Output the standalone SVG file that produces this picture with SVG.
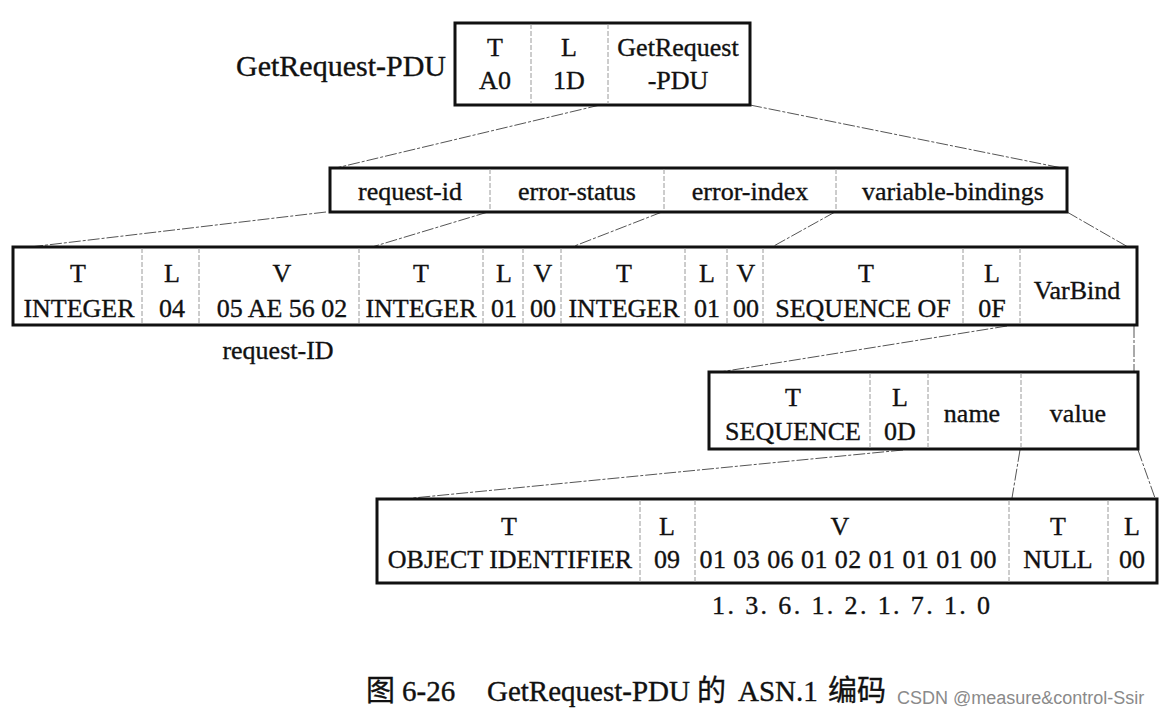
<svg xmlns="http://www.w3.org/2000/svg" width="1173" height="720" viewBox="0 0 1173 720">
<style>
  text { font-family: "Liberation Serif", "Times New Roman", Times, serif; font-size: 26px; fill: #111; stroke: #111; stroke-width: 0.35; text-anchor: middle; }
  .box { fill: #fff; stroke: #111; stroke-width: 3; }
  .div { stroke: #9a9a9a; stroke-width: 1; stroke-dasharray: 5 2; fill: none; }
  .con { stroke: #555; stroke-width: 1; stroke-dasharray: 12 2 3 2; fill: none; }
  .big { font-size: 30px; }
  .cap { font-family: "Liberation Serif", "Noto Sans CJK SC", serif; font-size: 29px; text-anchor: start; }
  .wm { font-family: "Liberation Sans", Arial, sans-serif; font-size: 18px; fill: #8a8a8a; stroke: none; text-anchor: start; }
</style>
<rect width="1173" height="720" fill="#fff"/>

<g id="connectors">
  <line class="con" x1="600" y1="105" x2="336" y2="168"/>
  <line class="con" x1="750" y1="105" x2="1062" y2="168"/>
  <line class="con" x1="326" y1="212" x2="30" y2="247"/>
  <line class="con" x1="488" y1="212" x2="372" y2="247"/>
  <line class="con" x1="662" y1="212" x2="572" y2="247"/>
  <line class="con" x1="835" y1="212" x2="772" y2="247"/>
  <line class="con" x1="1067" y1="212" x2="1128" y2="247"/>
  <line class="con" x1="1007" y1="326" x2="720" y2="372"/>
  <line class="con" x1="1134" y1="326" x2="1134" y2="372"/>
  <line class="con" x1="903" y1="450" x2="413" y2="498"/>
  <line class="con" x1="1020" y1="450" x2="1012" y2="498"/>
  <line class="con" x1="1138" y1="450" x2="1155" y2="498"/>
</g>

<g id="pdu-label">
  <text class="big" x="446" y="76" style="text-anchor:end">GetRequest-PDU</text>
</g>

<g id="pdu-box">
  <rect class="box" x="455" y="23" width="295" height="82"/>
  <line class="div" x1="531" y1="24" x2="531" y2="104"/>
  <line class="div" x1="608" y1="24" x2="608" y2="104"/>
  <text x="495" y="56">T</text>
  <text x="495" y="89">A0</text>
  <text x="569" y="56">L</text>
  <text x="569" y="89">1D</text>
  <text x="678" y="56">GetRequest</text>
  <text x="678" y="89">-PDU</text>
</g>

<g id="fields">
  <rect class="box" x="330" y="168" width="737" height="44"/>
  <line class="div" x1="490" y1="169" x2="490" y2="211"/>
  <line class="div" x1="664" y1="169" x2="664" y2="211"/>
  <line class="div" x1="836" y1="169" x2="836" y2="211"/>
  <text x="410" y="200">request-id</text>
  <text x="577" y="200">error-status</text>
  <text x="750" y="200">error-index</text>
  <text x="953" y="200">variable-bindings</text>
</g>

<g id="encoding">
  <rect class="box" x="13" y="247" width="1124" height="78"/>
  <line class="div" x1="142" y1="248" x2="142" y2="324"/>
  <line class="div" x1="199" y1="248" x2="199" y2="324"/>
  <line class="div" x1="359" y1="248" x2="359" y2="324"/>
  <line class="div" x1="483" y1="248" x2="483" y2="324"/>
  <line class="div" x1="523" y1="248" x2="523" y2="324"/>
  <line class="div" x1="561" y1="248" x2="561" y2="324"/>
  <line class="div" x1="685" y1="248" x2="685" y2="324"/>
  <line class="div" x1="727" y1="248" x2="727" y2="324"/>
  <line class="div" x1="763" y1="248" x2="763" y2="324"/>
  <line class="div" x1="963" y1="248" x2="963" y2="324"/>
  <line class="div" x1="1020" y1="248" x2="1020" y2="324"/>
  <text x="78" y="282">T</text>
  <text x="79" y="317">INTEGER</text>
  <text x="172" y="282">L</text>
  <text x="172" y="317">04</text>
  <text x="282" y="282">V</text>
  <text x="282" y="317">05 AE 56 02</text>
  <text x="421" y="282">T</text>
  <text x="421" y="317">INTEGER</text>
  <text x="504" y="282">L</text>
  <text x="504" y="317">01</text>
  <text x="543" y="282">V</text>
  <text x="543" y="317">00</text>
  <text x="624" y="282">T</text>
  <text x="624" y="317">INTEGER</text>
  <text x="707" y="282">L</text>
  <text x="707" y="317">01</text>
  <text x="746" y="282">V</text>
  <text x="746" y="317">00</text>
  <text x="866" y="282">T</text>
  <text x="863" y="317">SEQUENCE OF</text>
  <text x="992" y="282">L</text>
  <text x="992" y="317">0F</text>
  <text x="1077" y="299">VarBind</text>
</g>

<g id="request-id-label">
  <text x="278" y="359">request-ID</text>
</g>

<g id="varbind">
  <rect class="box" x="709" y="372" width="429" height="77"/>
  <line class="div" x1="870" y1="373" x2="870" y2="448"/>
  <line class="div" x1="928" y1="373" x2="928" y2="448"/>
  <line class="div" x1="1021" y1="373" x2="1021" y2="448"/>
  <text x="793" y="406">T</text>
  <text x="793" y="440">SEQUENCE</text>
  <text x="900" y="406">L</text>
  <text x="900" y="440">0D</text>
  <text x="972" y="422">name</text>
  <text x="1078" y="422">value</text>
</g>

<g id="name-value">
  <rect class="box" x="377" y="499" width="780" height="84"/>
  <line class="div" x1="640" y1="500" x2="640" y2="582"/>
  <line class="div" x1="695" y1="500" x2="695" y2="582"/>
  <line class="div" x1="1009" y1="500" x2="1009" y2="582"/>
  <line class="div" x1="1108" y1="500" x2="1108" y2="582"/>
  <text x="509" y="535">T</text>
  <text x="510" y="568">OBJECT IDENTIFIER</text>
  <text x="667" y="535">L</text>
  <text x="667" y="568">09</text>
  <text x="840" y="535">V</text>
  <text x="848" y="568" textLength="297" lengthAdjust="spacing">01 03 06 01  02 01 01 01 00</text>
  <text x="1058" y="535">T</text>
  <text x="1058" y="568">NULL</text>
  <text x="1132" y="535">L</text>
  <text x="1132" y="568">00</text>
</g>

<g id="oid-label">
  <text x="851" y="614" textLength="278" lengthAdjust="spacing">1. 3. 6. 1. 2. 1. 7. 1. 0</text>
</g>

<g id="caption">
  <text class="cap" y="701"><tspan x="366">图</tspan><tspan x="402">6-26</tspan><tspan x="487">GetRequest-PDU</tspan><tspan x="697">的</tspan><tspan x="738">ASN.1</tspan><tspan x="828">编码</tspan></text>
  <text class="wm" x="897" y="704">CSDN @measure&amp;control-Ssir</text>
</g>
</svg>
